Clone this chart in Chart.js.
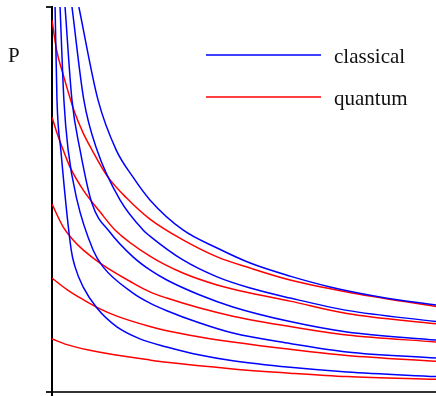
<!DOCTYPE html>
<html>
<head>
<meta charset="utf-8">
<script src="https://cdn.jsdelivr.net/npm/chart.js@4/dist/chart.umd.min.js"></script>
<style>
  html, body { margin: 0; padding: 0; background: #fff; }
  #wrap { width: 436px; height: 396px; }
</style>
</head>
<body>
<div id="wrap"><canvas id="c" width="436" height="396"></canvas></div>
<script>
// Axis ranges (volume across, pressure up)
const vRange = [0, 10];
const pRange = [0, 10];

// Classical isotherms, lowest to highest, as [V, P]
const classical1 = [[0.08,10.0],[0.13,7.58],[0.23,6.29],[0.50,3.69],[0.60,3.25],[0.81,2.73],[1.17,2.18],[1.69,1.69],[2.29,1.38],[2.99,1.17],[3.85,0.96],[4.71,0.81],[6.20,0.64],[7.68,0.52],[10.0,0.40]];
const classical2 = [[0.21,10.0],[0.31,7.58],[0.42,6.29],[0.65,4.99],[1.07,3.69],[1.33,3.25],[2.11,2.57],[2.55,2.31],[2.99,2.11],[3.85,1.79],[4.71,1.53],[6.20,1.26],[7.68,1.04],[10.0,0.88]];
const classical3 = [[0.34,10.0],[0.52,7.58],[0.73,6.29],[1.04,4.90],[1.51,4.15],[2.11,3.51],[2.55,3.17],[2.99,2.91],[3.85,2.52],[4.71,2.21],[6.20,1.83],[7.68,1.56],[10.0,1.35]];
const classical4 = [[0.52,10.0],[0.83,7.58],[1.17,6.29],[1.77,4.99],[2.37,4.21],[2.55,4.05],[3.41,3.43],[4.30,2.99],[5.16,2.70],[6.20,2.44],[7.68,2.12],[10.0,1.83]];
const classical5 = [[0.70,10.0],[1.20,7.58],[1.67,6.29],[2.11,5.58],[2.55,4.99],[3.41,4.21],[4.30,3.74],[5.16,3.35],[6.20,3.01],[7.24,2.73],[8.54,2.47],[10.0,2.26]];

// Quantum isotherms, lowest to highest, as [V, P]
const quantum1 = [[0.0,1.38],[0.39,1.23],[1.25,1.03],[2.55,0.83],[2.99,0.77],[4.71,0.60],[6.20,0.49],[7.68,0.40],[10.0,0.33]];
const quantum2 = [[0.0,2.96],[0.39,2.66],[0.81,2.40],[1.25,2.16],[1.69,1.97],[2.55,1.70],[2.99,1.59],[3.85,1.43],[4.71,1.30],[6.20,1.11],[7.68,0.95],[10.0,0.80]];
const quantum3 = [[0.0,4.88],[0.29,4.29],[0.55,3.95],[0.81,3.69],[1.25,3.35],[2.11,2.83],[2.55,2.60],[2.99,2.44],[3.85,2.18],[4.71,1.97],[6.20,1.70],[7.68,1.48],[10.0,1.30]];
const quantum4 = [[0.0,7.14],[0.13,6.73],[0.29,6.29],[0.47,5.84],[0.81,5.25],[1.25,4.68],[1.64,4.21],[2.55,3.53],[3.41,3.09],[4.30,2.78],[5.16,2.57],[6.20,2.36],[7.68,2.04],[10.0,1.77]];
const quantum5 = [[0.0,9.66],[0.12,8.88],[0.29,8.25],[0.57,7.32],[0.81,6.73],[1.04,6.29],[1.43,5.62],[1.95,5.03],[2.55,4.49],[3.41,3.95],[4.30,3.51],[5.16,3.22],[6.20,2.91],[7.68,2.60],[10.0,2.22]];

const seriesNames = ['classical', 'quantum'];
const seriesColors = ['#0000ff', '#ff0000'];
const axisLabel = 'P';

const toPoints = arr => arr.map(([x, y]) => ({ x, y }));
const lineSet = (arr, color) => ({
  data: toPoints(arr),
  borderColor: color,
  borderWidth: 1.5,
  pointRadius: 0,
  fill: false,
  showLine: true,
  cubicInterpolationMode: 'monotone'
});

const datasets = [
  ...[classical1, classical2, classical3, classical4, classical5].map(a => lineSet(a, seriesColors[0])),
  ...[quantum1, quantum2, quantum3, quantum4, quantum5].map(a => lineSet(a, seriesColors[1]))
];

// Draws the "P" axis label and the two-line legend in the upper right
const annotations = {
  id: 'annotations',
  afterDraw(chart) {
    const ctx = chart.ctx;
    ctx.save();
    ctx.font = '21px "Liberation Serif", serif';
    ctx.fillStyle = '#111';
    ctx.textBaseline = 'alphabetic';
    ctx.fillText(axisLabel, 8, 62);
    const rows = [55, 97];
    seriesNames.forEach((name, i) => {
      ctx.strokeStyle = seriesColors[i];
      ctx.lineWidth = 1.5;
      ctx.beginPath();
      ctx.moveTo(206, rows[i]);
      ctx.lineTo(321, rows[i]);
      ctx.stroke();
      ctx.fillText(name, 334, rows[i] + 8);
    });
    ctx.restore();
  }
};

new Chart(document.getElementById('c'), {
  type: 'scatter',
  data: { datasets },
  plugins: [annotations],
  options: {
    responsive: false,
    animation: false,
    devicePixelRatio: 1,
    layout: { padding: { left: 46, top: 7, right: 0, bottom: 0 } },
    plugins: { legend: { display: false }, tooltip: { enabled: false } },
    scales: {
      x: {
        type: 'linear', min: vRange[0], max: vRange[1],
        afterBuildTicks: s => { s.ticks = [{ value: vRange[0] }]; },
        afterFit: s => { s.height = 4; },
        ticks: { display: false },
        grid: { drawOnChartArea: false, drawTicks: true, tickLength: 4, color: '#000', lineWidth: 2 },
        border: { display: true, color: '#333', width: 2 }
      },
      y: {
        type: 'linear', min: pRange[0], max: pRange[1],
        afterBuildTicks: s => { s.ticks = [{ value: pRange[0] }, { value: pRange[1] }]; },
        afterFit: s => { s.width = 6; },
        ticks: { display: false },
        grid: { drawOnChartArea: false, drawTicks: true, tickLength: 6, color: '#222', lineWidth: 2 },
        border: { display: true, color: '#000', width: 2 }
      }
    }
  }
});
</script>
</body>
</html>
